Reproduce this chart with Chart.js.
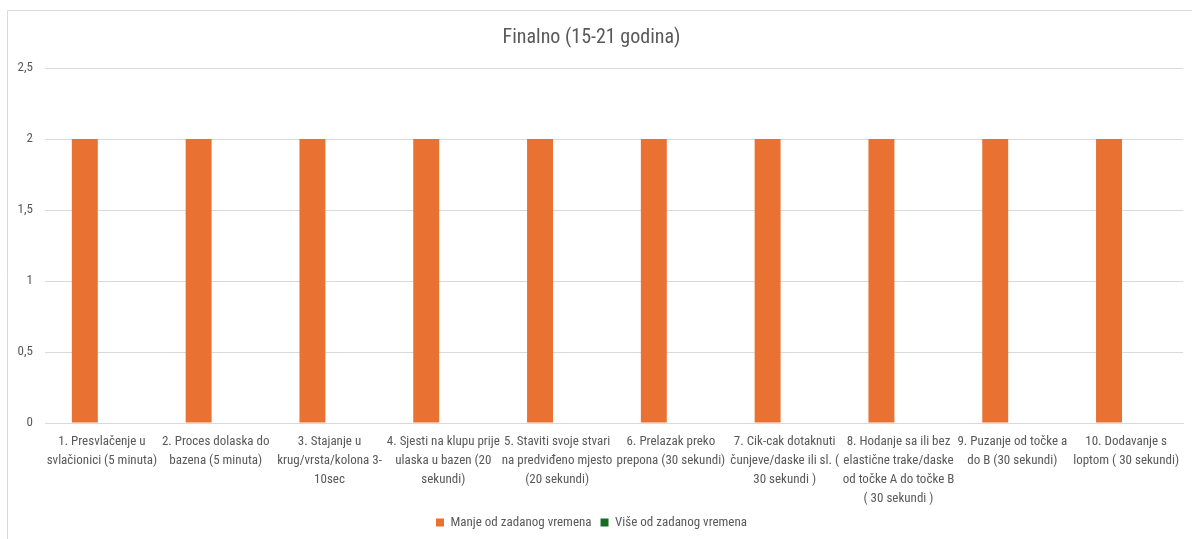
<!DOCTYPE html>
<html lang="hr">
<head>
  <meta charset="UTF-8" />
  <title>Finalno (15-21 godina)</title>
  <script src="https://cdn.jsdelivr.net/npm/chart.js@4.4.0/dist/chart.umd.min.js"></script>
  <style>
    html, body { margin: 0; padding: 0; background: #fff; }
    #wrap { width: 1192px; height: 539px; position: relative; }
  </style>
</head>
<body>
  <div id="wrap">
    <canvas id="chart" width="1192" height="539"></canvas>
  </div>
  <script>
    // data
    const categories = [
      ["1. Presvlačenje u", "svlačionici (5 minuta)"],
      ["2. Proces dolaska do", "bazena (5 minuta)"],
      ["3. Stajanje u", "krug/vrsta/kolona 3-", "10sec"],
      ["4. Sjesti na klupu prije", "ulaska u bazen (20", "sekundi)"],
      ["5. Staviti svoje stvari", "na predviđeno mjesto", "(20 sekundi)"],
      ["6. Prelazak preko", "prepona (30 sekundi)"],
      ["7. Cik-cak dotaknuti", "čunjeve/daske ili sl. (", "30 sekundi )"],
      ["8. Hodanje sa ili bez", "elastične trake/daske", "od točke A do točke B", "( 30 sekundi )"],
      ["9. Puzanje od točke a", "do B (30 sekundi)"],
      ["10. Dodavanje s", "loptom ( 30 sekundi)"]
    ];
    const manjeOd = [2, 2, 2, 2, 2, 2, 2, 2, 2, 2];
    const viseOd = [0, 0, 0, 0, 0, 0, 0, 0, 0, 0];
    const yTicks = [0, 0.5, 1, 1.5, 2, 2.5];

    const FONT = '"Roboto Condensed", "Liberation Sans Narrow", sans-serif';
    const TEXT = '#595959';
    const GRID = '#d9d9d9';

    // outer chart frame, like the Excel chart border
    const framePlugin = {
      id: 'frame',
      beforeDraw(chart) {
        const c = chart.ctx;
        c.save();
        c.strokeStyle = GRID;
        c.lineWidth = 1;
        c.beginPath();
        c.moveTo(7.5, 600);
        c.lineTo(7.5, 10.5);
        c.lineTo(1200, 10.5);
        c.stroke();
        c.restore();
      }
    };

    new Chart(document.getElementById('chart'), {
      type: 'bar',
      data: {
        labels: categories,
        datasets: [
          {
            label: 'Manje od zadanog vremena',
            data: manjeOd,
            backgroundColor: '#e97132',
            categoryPercentage: 0.6,
            barPercentage: 0.76
          },
          {
            label: 'Više od zadanog vremena',
            data: viseOd,
            backgroundColor: '#196b24',
            categoryPercentage: 0.6,
            barPercentage: 0.76
          }
        ]
      },
      options: {
        responsive: false,
        animation: false,
        layout: { padding: { left: 0, right: 9, top: 0, bottom: 0 } },
        plugins: {
          title: {
            display: true,
            text: 'Finalno (15-21 godina)',
            color: TEXT,
            font: { family: FONT, size: 20, weight: 'normal' },
            padding: { top: 26, bottom: 18 }
          },
          legend: {
            position: 'bottom',
            labels: {
              color: TEXT,
              font: { family: FONT, size: 13 },
              boxWidth: 8,
              boxHeight: 8,
              padding: 9
            }
          },
          tooltip: { enabled: false }
        },
        scales: {
          x: {
            grid: { display: false },
            border: { color: GRID },
            ticks: {
              color: TEXT,
              font: { family: FONT, size: 13, lineHeight: 19 / 13 },
              maxRotation: 0,
              autoSkip: false,
              padding: 1
            },
            afterFit(scale) { scale.height = 84; }
          },
          y: {
            min: 0,
            max: 2.5,
            afterBuildTicks(scale) { scale.ticks = yTicks.map(v => ({ value: v })); },
            grid: { color: GRID, drawTicks: false },
            border: { display: false },
            ticks: {
              color: TEXT,
              font: { family: FONT, size: 13 },
              padding: 12,
              callback: v => String(v).replace('.', ',')
            },
            afterFit(scale) { scale.width = 45; }
          }
        }
      },
      plugins: [framePlugin]
    });
  </script>
</body>
</html>
